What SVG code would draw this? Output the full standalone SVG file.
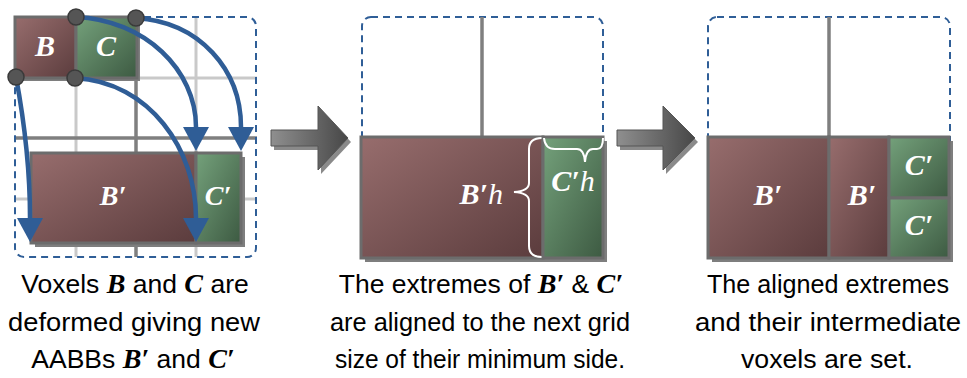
<svg xmlns="http://www.w3.org/2000/svg" width="967" height="378" viewBox="0 0 967 378">
<defs>
  <linearGradient id="gB" x1="0" y1="0" x2="1" y2="1">
    <stop offset="0" stop-color="#976d6d"/>
    <stop offset="1" stop-color="#5b3c3d"/>
  </linearGradient>
  <linearGradient id="gC" x1="0" y1="0" x2="1" y2="1">
    <stop offset="0" stop-color="#74a17b"/>
    <stop offset="1" stop-color="#3d5a42"/>
  </linearGradient>
  <linearGradient id="gA" x1="0" y1="0" x2="1" y2="0">
    <stop offset="0" stop-color="#8f8f8f"/>
    <stop offset="1" stop-color="#474747"/>
  </linearGradient>
  <marker id="ah" markerUnits="userSpaceOnUse" markerWidth="26" markerHeight="26" viewBox="0 0 24 26" refX="0" refY="13" orient="auto">
    <path d="M0,0 L24,13 L0,26 Z" fill="#2f5d96"/>
  </marker>
  <style>
    .box{stroke:#6c6c6c;stroke-width:3}
    .sh{fill:#7e7e7e}
    .lbl{font-family:"Liberation Serif",serif;font-weight:bold;font-style:italic;fill:#ffffff;font-size:30px;text-anchor:middle}
    .cap{font-family:"Liberation Sans",Arial,sans-serif;font-size:26.5px;fill:#000000;text-anchor:middle}
    .m{font-family:"Liberation Serif",serif;font-weight:bold;font-style:italic;font-size:28px}
    .n{font-weight:normal}
    .dash{fill:none;stroke:#2f5e97;stroke-width:2;stroke-dasharray:7 5}
    .arr{fill:none;stroke:#2f5d96;stroke-width:4.5;marker-end:url(#ah)}
    .gl{stroke:#c9c9c9;stroke-width:3}
    .gd{stroke:#7f7f7f;stroke-width:3.5}
    .dot{fill:#555555;stroke:#3a3a3a;stroke-width:1.5}
    .brace{fill:none;stroke:#ffffff;stroke-width:2}
    .blk{fill:url(#gA);stroke:#555555;stroke-width:1}
    .blksh{fill:#8a8a8a}
  </style>
</defs>

<!-- Panel 1 grid -->
<g id="grid1">
  <line class="gl" x1="76" y1="17" x2="76" y2="257"/>
  <line class="gl" x1="196" y1="17" x2="196" y2="257"/>
  <line class="gl" x1="15" y1="78" x2="257" y2="78"/>
  <line class="gl" x1="15" y1="199" x2="257" y2="199"/>
  <line class="gd" x1="136" y1="17" x2="136" y2="257"/>
  <line class="gd" x1="15" y1="138" x2="257" y2="138"/>
</g>
<g id="frame1"><rect class="dash" x="15" y="17" width="241" height="240" rx="9"/></g>
<g id="frame2"><rect class="dash" x="362" y="17" width="241" height="238" rx="9"/></g>
<g id="frame3"><rect class="dash" x="708" y="17" width="242" height="238" rx="9"/></g>

<!-- grid lines panels 2/3 -->
<g id="grid2"><line class="gd" x1="482" y1="17" x2="482" y2="137"/></g>
<g id="grid3"><line class="gd" x1="829" y1="17" x2="829" y2="137"/></g>

<!-- Panel 1 nodes -->
<g id="nodeB">
  <rect class="sh" x="18" y="20" width="60" height="61"/>
  <rect class="box" x="15" y="17" width="61" height="61" fill="url(#gB)"/>
  <text class="lbl" x="45" y="56">B</text>
</g>
<g id="nodeC">
  <rect class="sh" x="79" y="20" width="61" height="61"/>
  <rect class="box" x="76" y="17" width="61" height="61" fill="url(#gC)"/>
  <text class="lbl" x="106" y="56">C</text>
</g>
<g id="nodeB1">
  <rect class="sh" x="35" y="157" width="210" height="90"/>
  <rect class="box" x="31" y="153" width="165" height="90" fill="url(#gB)"/>
  <text class="lbl" x="113" y="205" style="font-size:28px">B′</text>
</g>
<g id="nodeC1">
  <rect class="box" x="196" y="153" width="45" height="90" fill="url(#gC)"/>
  <text class="lbl" x="218" y="205" style="font-size:28px">C′</text>
</g>

<!-- Panel 2 nodes -->
<g id="nodeB2">
  <rect class="sh" x="365" y="141" width="242" height="121"/>
  <rect class="box" x="361" y="137" width="182" height="121" fill="url(#gB)"/>
  <text class="lbl" x="503" y="204" style="text-anchor:end">B′<tspan class="n">h</tspan></text>
  <path class="brace" d="M542,138 Q529,138 529,149 L529,183 Q529,191 514,192 Q529,193 529,201 L529,246 Q529,257 542,257"/>
</g>
<g id="nodeC2">
  <rect class="box" x="543" y="137" width="60" height="121" fill="url(#gC)"/>
  <text class="lbl" x="573" y="191">C′<tspan class="n">h</tspan></text>
  <path class="brace" d="M544,138 Q545,149 555,149 L577,149 Q584,149 585,162 Q586,149 593,149 L597,149 Q603,149 603,138"/>
</g>

<!-- Panel 3 nodes -->
<g id="nodeB3a">
  <rect class="sh" x="712" y="141" width="241" height="121"/>
  <rect class="box" x="708" y="137" width="121" height="121" fill="url(#gB)"/>
  <text class="lbl" x="768" y="205">B′</text>
</g>
<g id="nodeB3b">
  <rect class="box" x="829" y="137" width="60" height="121" fill="url(#gB)"/>
  <text class="lbl" x="862" y="205">B′</text>
</g>
<g id="nodeC3a">
  <rect class="box" x="889" y="137" width="60" height="61" fill="url(#gC)"/>
  <text class="lbl" x="919" y="175">C′</text>
</g>
<g id="nodeC3b">
  <rect class="box" x="889" y="198" width="60" height="60" fill="url(#gC)"/>
  <text class="lbl" x="919" y="235">C′</text>
</g>

<!-- Connectors -->
<g id="connectors">
  <path class="arr" d="M76,17 C145,20 196,70 196,127"/>
  <path class="arr" d="M136,18 C200,22 241,70 241,127"/>
  <path class="arr" d="M16,77 C24,120 30,170 30,218"/>
  <path class="arr" d="M75,78 C150,82 196,150 196,218"/>
  <polygon class="blksh" transform="translate(3,4)" points="271,130 318,130 318,106 348,138 318,170 318,146 271,146"/>
  <polygon class="blk" points="271,130 318,130 318,106 348,138 318,170 318,146 271,146"/>
  <polygon class="blksh" transform="translate(3,4)" points="617,130 663,130 663,106 695,138 663,170 663,146 617,146"/>
  <polygon class="blk" points="617,130 663,130 663,106 695,138 663,170 663,146 617,146"/>
</g>

<!-- corner points -->
<g id="corners">
  <circle class="dot" cx="76" cy="17" r="8"/>
  <circle class="dot" cx="136" cy="18" r="8"/>
  <circle class="dot" cx="16" cy="77" r="8"/>
  <circle class="dot" cx="75" cy="78" r="8"/>
</g>

<!-- Captions -->
<g id="caption1">
  <text class="cap" x="135" y="293">Voxels <tspan class="m">B</tspan> and <tspan class="m">C</tspan> are</text>
  <text class="cap" x="134" y="331" textLength="252" lengthAdjust="spacingAndGlyphs">deformed giving new</text>
  <text class="cap" x="133" y="368">AABBs <tspan class="m">B′</tspan> and <tspan class="m">C′</tspan></text>
</g>
<g id="caption2">
  <text class="cap" x="481" y="293">The extremes of <tspan class="m">B′</tspan> &amp; <tspan class="m">C′</tspan></text>
  <text class="cap" x="480" y="331" textLength="300" lengthAdjust="spacingAndGlyphs">are aligned to the next grid</text>
  <text class="cap" x="480" y="368" textLength="290" lengthAdjust="spacingAndGlyphs">size of their minimum side.</text>
</g>
<g id="caption3">
  <text class="cap" x="828" y="293" textLength="242" lengthAdjust="spacingAndGlyphs">The aligned extremes</text>
  <text class="cap" x="828" y="331" textLength="266" lengthAdjust="spacingAndGlyphs">and their intermediate</text>
  <text class="cap" x="827" y="368" textLength="172" lengthAdjust="spacingAndGlyphs">voxels are set.</text>
</g>
</svg>
